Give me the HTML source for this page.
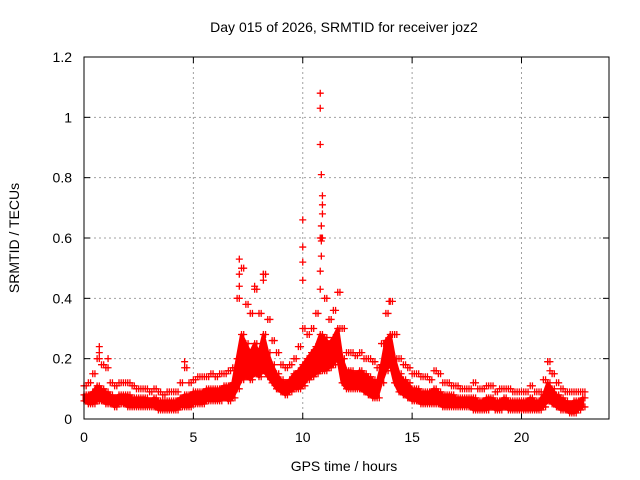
<!DOCTYPE html>
<html><head><meta charset="utf-8"><style>
body{margin:0;background:#fff}
svg{display:block;font-family:"Liberation Sans",sans-serif}
</style></head><body>
<svg id="c" width="640" height="480">
<rect width="640" height="480" fill="#fff"/>
<text x="344" y="32" font-size="14" text-anchor="middle">Day 015 of 2026, SRMTID for receiver joz2</text>
<text x="344" y="471" font-size="14" text-anchor="middle">GPS time / hours</text>
<text transform="translate(19,238) rotate(-90)" font-size="14" text-anchor="middle">SRMTID / TECUs</text>
<g id="grid"></g><g id="ticks"></g><g id="band"></g><g id="pts"></g>
<rect x="84" y="57" width="525" height="362" fill="none" stroke="#000" stroke-width="1"/>
</svg>
<script>
const xTicks=[0,5,10,15,20];
const yTicks=[0,0.2,0.4,0.6,0.8,1,1.2];
const yTickLabels=["0","0.2","0.4","0.6","0.8","1","1.2"];
const tStep=0.2;
const midVals=[.08,.08,.09,.11,.1,.09,.08,.07,.08,.08,.08,.07,.07,.07,.07,.06,.07,.06,.06,.06,.06,.06,.07,.08,.08,.09,.09,.09,.1,.1,.1,.1,.11,.11,.12,.2,.28,.25,.22,.25,.22,.28,.22,.18,.15,.13,.12,.13,.15,.16,.18,.2,.22,.24,.28,.27,.25,.27,.3,.2,.16,.16,.15,.16,.15,.14,.13,.12,.18,.26,.28,.2,.15,.13,.12,.1,.1,.09,.09,.09,.1,.09,.08,.08,.08,.07,.07,.07,.07,.07,.06,.06,.07,.07,.06,.06,.07,.06,.06,.06,.06,.06,.07,.06,.06,.08,.12,.1,.08,.07,.06,.05,.06,.06,.07];
const highVals=[.11,.12,.15,.2,.18,.17,.12,.11,.12,.12,.12,.11,.1,.1,.1,.09,.1,.09,.08,.09,.09,.09,.12,.17,.12,.13,.14,.14,.14,.15,.14,.15,.15,.16,.17,.4,.5,.38,.35,.43,.35,.48,.33,.26,.22,.18,.17,.18,.2,.24,.3,.28,.3,.35,.6,.4,.33,.36,.42,.3,.22,.22,.21,.22,.2,.2,.19,.17,.25,.35,.39,.28,.2,.18,.17,.15,.15,.14,.14,.13,.16,.15,.12,.12,.11,.11,.1,.1,.1,.12,.1,.1,.11,.11,.09,.1,.1,.1,.09,.09,.09,.09,.11,.09,.09,.13,.19,.15,.12,.1,.09,.09,.09,.09,.09];
const lowVals=[.06,.05,.05,.06,.06,.05,.05,.04,.05,.05,.04,.04,.04,.04,.04,.04,.04,.03,.03,.03,.03,.03,.04,.04,.04,.05,.05,.05,.06,.06,.06,.06,.07,.06,.07,.1,.13,.14,.13,.15,.14,.16,.14,.12,.1,.09,.08,.09,.1,.1,.11,.13,.14,.15,.16,.16,.17,.18,.2,.12,.1,.1,.1,.1,.09,.08,.07,.07,.12,.16,.18,.12,.09,.08,.07,.06,.06,.05,.05,.05,.05,.05,.04,.04,.04,.04,.04,.04,.04,.03,.03,.03,.03,.04,.03,.03,.04,.03,.03,.03,.03,.03,.03,.03,.03,.04,.06,.05,.04,.03,.03,.02,.02,.03,.04];
const spikeTimes=[0.7,0.7,1.1,4.6,7.1,7.1,7.1,7.8,8.2,8.2,10.0,10.0,10.0,10.0,10.8,10.8,10.8,10.85,10.9,10.9,10.9,10.85,10.85,10.85,10.85,10.8,10.8,13.95,21.2,21.3];
const spikeVals=[.24,.22,.2,.19,.53,.48,.44,.44,.48,.46,.66,.57,.52,.46,1.08,1.03,.91,.81,.74,.71,.68,.64,.6,.59,.54,.49,.43,.39,.19,.16];
const NS='http://www.w3.org/2000/svg';
const X=v=>84+v*(525/24), Y=v=>419-v*(362/1.2);
function mk(tag,attrs,parent){const e=document.createElementNS(NS,tag);for(const k in attrs)e.setAttribute(k,attrs[k]);parent.appendChild(e);return e;}
const grid=document.getElementById('grid'),ticks=document.getElementById('ticks'),pts=document.getElementById('pts'),band=document.getElementById('band');
xTicks.forEach((t,i)=>{const x=X(t);
 if(t>0){const g=mk('line',{x1:x,x2:x,y1:57,y2:419,stroke:'#a0a0a0','stroke-dasharray':'2,3'},grid);
 }
 mk('line',{x1:x,x2:x,y1:419,y2:413,stroke:'#000'},ticks);mk('line',{x1:x,x2:x,y1:57,y2:63,stroke:'#000'},ticks);
 const l=mk('text',{x:x,y:442,'font-size':14,'text-anchor':'middle'},ticks);l.textContent=t;
 });
yTicks.forEach((v,i)=>{const y=Y(v);
 if(v>0&&v<1.2){const g=mk('line',{x1:84,x2:609,y1:y,y2:y,stroke:'#a0a0a0','stroke-dasharray':'2,3'},grid);
 }
 mk('line',{x1:84,x2:90,y1:y,y2:y,stroke:'#000'},ticks);mk('line',{x1:609,x2:603,y1:y,y2:y,stroke:'#000'},ticks);
 const l=mk('text',{x:72,y:y+5,'font-size':14,'text-anchor':'end'},ticks);l.textContent=yTickLabels[i];
 });
// dense core of the scatter cloud: between low and mid values
let d='';
midVals.forEach((v,i)=>{d+=(i?'L':'M')+X(i*tStep)+','+Y(v);});
for(let i=lowVals.length-1;i>=0;i--)d+='L'+X(i*tStep)+','+Y(lowVals[i]);
d+='Z';
const bp=mk('path',{d:d,fill:'#f00',stroke:'#f00','stroke-width':3,'stroke-linejoin':'round'},band);


function plus(t,v){const x=X(t),y=Y(v);
 const p=mk('path',{d:`M${x-3.5},${y}h7M${x},${y-3.5}v7`,stroke:'#f00','stroke-width':1.3,fill:'none'},pts);
 }
[lowVals,midVals,highVals].forEach(arr=>arr.forEach((v,i)=>{plus(i*tStep,v);plus(i*tStep+0.1,v);}));
spikeTimes.forEach((t,i)=>plus(t,spikeVals[i]));
</script>
</body></html>
